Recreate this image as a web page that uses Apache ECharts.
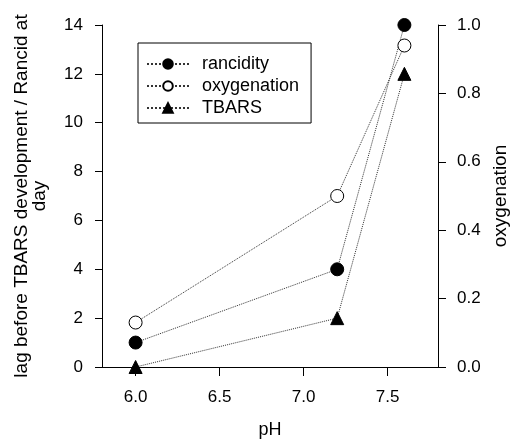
<!DOCTYPE html>
<html><head><meta charset="utf-8">
<script src="https://cdn.jsdelivr.net/npm/echarts@6/dist/echarts.min.js"></script>
<style>html,body{margin:0;padding:0;background:#fff}#c{width:513px;height:439px}</style>
</head><body><div id="c"></div>
<script>
const pH = [6.0, 7.2, 7.6];
const rancidity = [1, 4, 14];
const oxygenation = [0.13, 0.5, 0.94];
const tbars = [0, 2, 12];
const xTicks = [6.0, 6.5, 7.0, 7.5];

const F = '"Liberation Sans", Arial, sans-serif';
const pair = (xs, ys) => xs.map((x, i) => [x, ys[i]]);
const lineStyle = {type: 'dotted', width: 1, color: '#333'};
const chart = echarts.init(document.getElementById('c'), null, {renderer: 'canvas'});
chart.setOption({
  animation: false,
  backgroundColor: '#fff',
  grid: {left: 102, right: 75, top: 25, bottom: 72, containLabel: false, outerBoundsMode: 'none'},
  legend: {
    left: 138, top: 43,
    orient: 'vertical', padding: [11, 12, 5, 8], itemGap: 2,
    itemWidth: 42, itemHeight: 12,
    borderColor: '#000', borderWidth: 1, borderRadius: 0,
    textStyle: {fontFamily: F, fontSize: 18, color: '#000', lineHeight: 20, padding: [0, 0, 0, 8]},
    data: ['rancidity', 'oxygenation', 'TBARS']
  },
  xAxis: {
    type: 'value', min: 5.8, max: 7.8,
    name: 'pH', nameLocation: 'middle', nameGap: 54,
    nameTextStyle: {fontFamily: F, fontSize: 18, color: '#000'},
    axisLine: {show: true, lineStyle: {color: '#000', width: 1}},
    axisTick: {show: true, length: 9, inside: false, customValues: xTicks, lineStyle: {color: '#000'}},
    axisLabel: {customValues: xTicks, margin: 22, fontFamily: F, fontSize: 17, color: '#000', formatter: v => v.toFixed(1)},
    splitLine: {show: false}
  },
  yAxis: [{
    type: 'value', min: 0, max: 14, interval: 2, position: 'left',
    name: 'lag before TBARS development / Rancid at\nday', nameLocation: 'middle', nameGap: 53, nameRotate: 90,
    nameTextStyle: {fontFamily: F, fontSize: 19, color: '#000', lineHeight: 18},
    axisLine: {show: true, lineStyle: {color: '#000', width: 1}},
    axisTick: {show: true, length: 7, lineStyle: {color: '#000'}},
    axisLabel: {margin: 19, fontFamily: F, fontSize: 17, color: '#000'},
    splitLine: {show: false}
  }, {
    type: 'value', min: 0, max: 1, interval: 0.2, position: 'right',
    name: 'oxygenation', nameLocation: 'middle', nameGap: 47, nameRotate: 90,
    nameTextStyle: {fontFamily: F, fontSize: 19, color: '#000'},
    axisLine: {show: true, lineStyle: {color: '#000', width: 1}},
    axisTick: {show: true, length: 8, lineStyle: {color: '#000'}},
    axisLabel: {margin: 19, fontFamily: F, fontSize: 17, color: '#000', formatter: v => v.toFixed(1)},
    splitLine: {show: false}
  }],
  series: [{
    name: 'rancidity', type: 'line', yAxisIndex: 0, data: pair(pH, rancidity),
    symbol: 'circle', symbolSize: 13, clip: false,
    lineStyle: lineStyle, itemStyle: {color: '#000', borderColor: '#000', borderWidth: 1}
  }, {
    name: 'oxygenation', type: 'line', yAxisIndex: 1, data: pair(pH, oxygenation),
    symbol: 'circle', symbolSize: 13, clip: false,
    lineStyle: lineStyle, itemStyle: {color: '#fff', borderColor: '#000', borderWidth: 1}
  }, {
    name: 'TBARS', type: 'line', yAxisIndex: 0, data: pair(pH, tbars),
    symbol: 'triangle', symbolSize: 13, clip: false,
    lineStyle: lineStyle, itemStyle: {color: '#000', borderColor: '#000', borderWidth: 1}
  }]
});
</script></body></html>
